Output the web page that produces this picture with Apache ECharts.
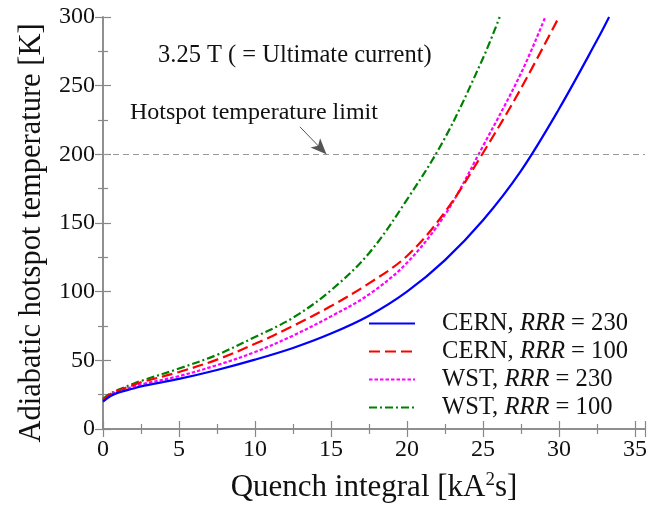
<!DOCTYPE html>
<html>
<head>
<meta charset="utf-8">
<script src="https://cdn.jsdelivr.net/npm/echarts@6/dist/echarts.min.js"></script>
<style>
html,body{margin:0;padding:0;background:#fff;}
#c{width:651px;height:508px;}
</style>
</head>
<body>
<div id="c"></div>
<script>
// Quench integral [kA^2 s] and hotspot temperature [K] per series
const cern230X = [0, 0.5, 1, 2, 2.5, 5, 7.5, 10, 12.5, 15, 17.5, 20, 22.5, 25, 27.5, 30, 32.5, 33.3];
const cern230Y = [20, 24, 26.5, 29.5, 31, 36.5, 43, 50.5, 59, 69.5, 82.5, 100, 123, 152, 188, 233, 283, 300];

const cern100X = [0, 0.5, 1, 2, 2.5, 5, 7.5, 10, 12.5, 15, 17.5, 20, 22.5, 25, 27.5, 30];
const cern100Y = [21, 25.5, 28, 32, 34, 41.5, 50.5, 62, 75, 89.5, 106, 126, 158, 201, 248, 300];

const wst230X = [0, 0.5, 1, 2, 2.5, 5, 7.5, 10, 12.5, 15, 17.5, 20, 22.5, 25, 27.5, 29.1];
const wst230Y = [21, 25, 27.5, 31, 32.5, 38.5, 46.5, 56, 68, 82, 98, 121, 156, 206, 259, 300];

const wst100X = [0, 0.5, 1, 2, 2.5, 5, 7.5, 10, 12.5, 15, 17.5, 20, 22.5, 25, 26.1];
const wst100Y = [22, 26, 28.5, 33, 35, 44, 54, 67, 81, 101, 128, 167, 212, 270, 300];

const seriesNames = ['CERN, RRR = 230', 'CERN, RRR = 100', 'WST, RRR = 230', 'WST, RRR = 100'];
const legendLabels = [['CERN, ', ' = 230'], ['CERN, ', ' = 100'], ['WST, ', ' = 230'], ['WST, ', ' = 100']];
const limitTemp = 200;
const xTicks = [0, 5, 10, 15, 20, 25, 30, 35];

function pairs(xs, ys) { return xs.map((x, i) => [x, ys[i]]); }

const FONT = '"Liberation Serif", "Times New Roman", serif';
const chart = echarts.init(document.getElementById('c'), null, {renderer: 'canvas'});

const axisCommon = {
  axisLine: {show: true, lineStyle: {color: '#888', width: 1.5}},
  axisTick: {show: true, inside: true, length: 8, lineStyle: {color: '#888', width: 1.2}},
  minorTick: {show: true, splitNumber: 2, length: 5, lineStyle: {color: '#888', width: 1.2}},
  splitLine: {show: false},
  minorSplitLine: {show: false}
};

const lineDefs = [
  {x: cern230X, y: cern230Y, color: '#0000ff', type: 'solid'},
  {x: cern100X, y: cern100Y, color: '#ff0000', type: [11, 5]},
  {x: wst230X, y: wst230Y, color: '#ff00ff', type: [3.5, 2]},
  {x: wst100X, y: wst100Y, color: '#008000', type: [8, 3, 2, 3]}
];

const series = lineDefs.map((d, i) => ({
  name: seriesNames[i],
  type: 'line',
  xAxisIndex: 0,
  yAxisIndex: 0,
  data: pairs(d.x, d.y),
  smooth: 0.35,
  symbol: 'none',
  showSymbol: false,
  lineStyle: {color: d.color, width: 2.2, type: d.type},
  itemStyle: {color: d.color},
  z: 5 - i
}));

series.push({
  type: 'line',
  data: [],
  markLine: {
    silent: true,
    symbol: ['none', 'none'],
    label: {show: false},
    lineStyle: {color: '#999', width: 1, type: [6, 4]},
    data: [{yAxis: limitTemp}]
  }
});
series.push({
  type: 'line',
  data: [],
  markLine: {
    silent: true,
    symbol: ['none', 'arrow'],
    symbolSize: [10, 16],
    label: {show: false},
    lineStyle: {color: '#555', width: 1, type: 'solid'},
    data: [[{coord: [12.96, 220]}, {coord: [14.7, limitTemp]}]]
  },
  z: 10
});

chart.setOption({
  animation: false,
  backgroundColor: '#fff',
  grid: {left: 103, top: 17, right: 6, bottom: 78, containLabel: false},
  xAxis: [
    Object.assign({}, axisCommon, {
      type: 'value', position: 'bottom', min: 0, max: 35.66, interval: 5,
      name: '{a|Quench integral [kA}{s|2}{a|s]}', nameLocation: 'middle', nameGap: 42,
      nameTextStyle: {fontFamily: FONT, fontSize: 31, color: '#111',
        rich: {
          a: {fontFamily: FONT, fontSize: 31, color: '#111'},
          s: {fontFamily: FONT, fontSize: 19, color: '#111', verticalAlign: 'bottom', padding: [0, 0, 14, 0]}
        }},
      axisLabel: {fontFamily: FONT, fontSize: 24, color: '#111', margin: 9,
        formatter: v => (xTicks.indexOf(v) >= 0 ? String(v) : '')}
    }),
    Object.assign({}, axisCommon, {
      type: 'value', position: 'top', min: 0, max: 35.66, interval: 5,
      axisLabel: {show: false}
    })
  ],
  yAxis: [
    Object.assign({}, axisCommon, {
      type: 'value', position: 'left', min: 0, max: 300, interval: 50,
      name: 'Adiabatic hotspot temperature [K]', nameLocation: 'middle', nameGap: 56,
      nameTextStyle: {fontFamily: FONT, fontSize: 30.5, color: '#111', padding: [0, 20, 0, 0]},
      axisLabel: {fontFamily: FONT, fontSize: 24, color: '#111', margin: 8}
    }),
    Object.assign({}, axisCommon, {
      type: 'value', position: 'right', min: 0, max: 300, interval: 50,
      axisLabel: {show: false}
    })
  ],
  legend: {
    data: seriesNames,
    orient: 'vertical',
    left: 363,
    top: 306,
    itemWidth: 46,
    itemHeight: 12,
    itemGap: 3,
    selectedMode: false,
    itemStyle: {opacity: 0},
    formatter: function (name) {
      const i = seriesNames.indexOf(name);
      return '{a|' + legendLabels[i][0] + '}{b|RRR}{c|' + legendLabels[i][1] + '}';
    },
    textStyle: {
      fontFamily: FONT, fontSize: 24.6, color: '#111', lineHeight: 24,
      rich: {
        a: {fontFamily: FONT, fontSize: 24.6, color: '#111', padding: [0, 0, 0, 22]},
        b: {fontFamily: FONT, fontSize: 24.6, color: '#111', fontStyle: 'italic'},
        c: {fontFamily: FONT, fontSize: 24.6, color: '#111'}
      }
    }
  },
  graphic: [
    {type: 'text', left: 158, top: 43,
      style: {text: '3.25 T ( = Ultimate current)', font: '24.5px ' + FONT, fill: '#111'}},
    {type: 'text', left: 130, top: 101,
      style: {text: 'Hotspot temperature limit', font: '24px ' + FONT, fill: '#111'}}
  ],
  series: series
});
</script>
</body>
</html>
